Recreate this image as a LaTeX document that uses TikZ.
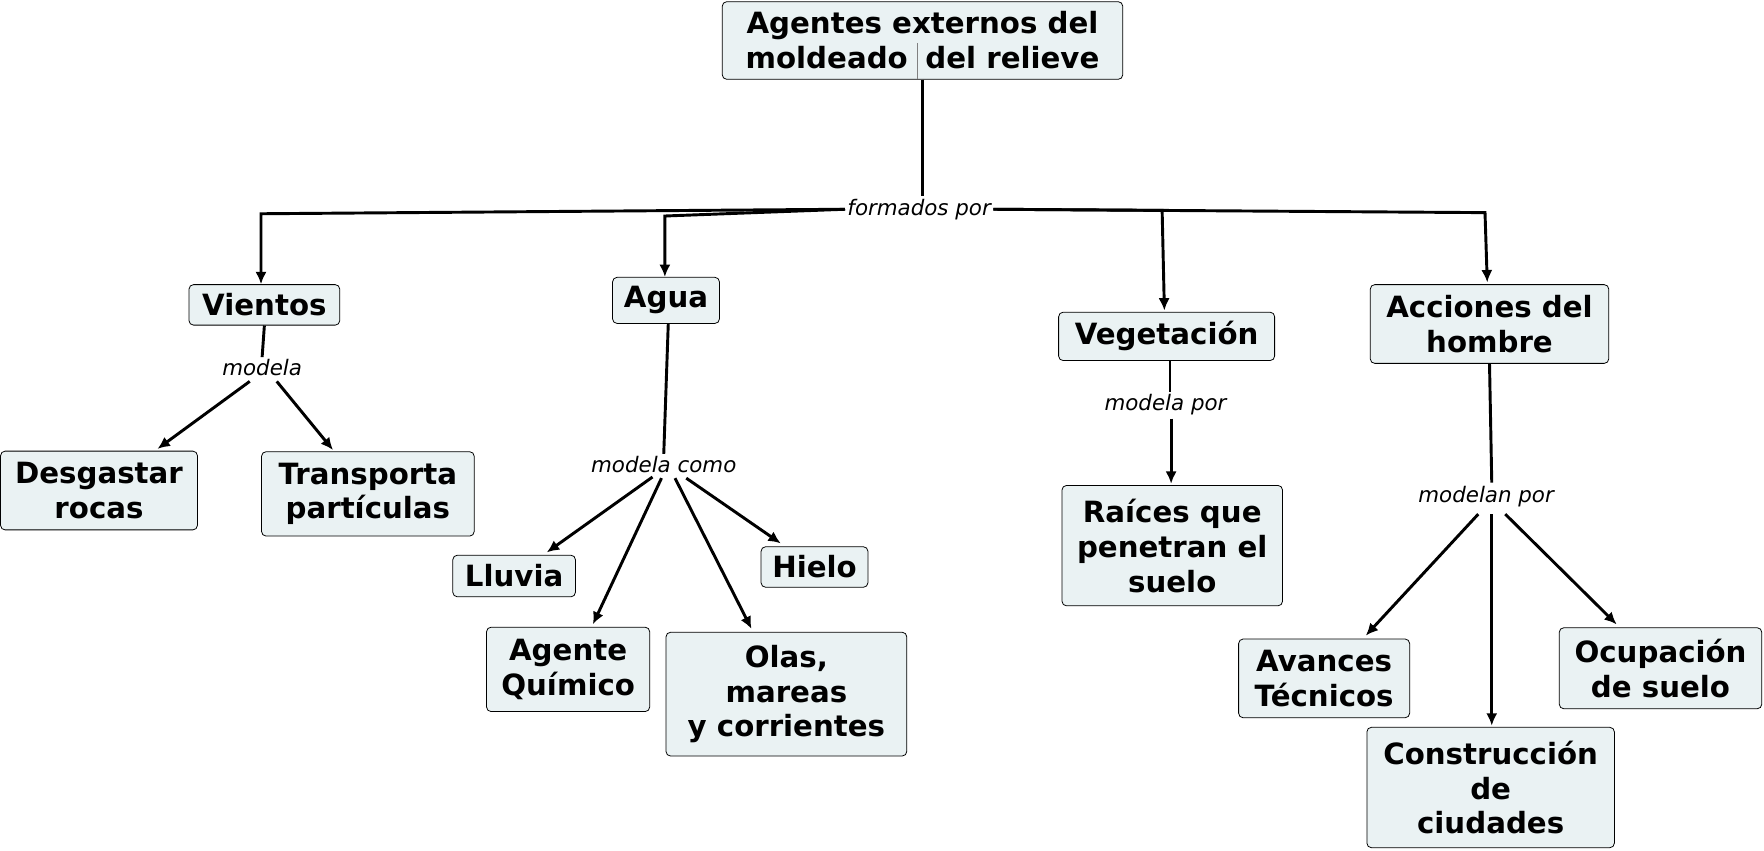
\documentclass[tikz,border=0pt]{standalone}
\usepackage{fontspec}
\setmainfont{DejaVu Sans}
\usetikzlibrary{arrows.meta}
\definecolor{boxfill}{HTML}{EAF2F3}
\begin{document}
\begin{tikzpicture}[x=1pt,y=-1pt,
  box/.style={draw=black,line width=0.7pt,fill=boxfill,rounded corners=4pt,align=center,font=\fontsize{26}{31}\selectfont\bfseries,inner sep=4pt},
  lbl/.style={font=\fontsize{19}{22}\selectfont\itshape,fill=white,inner sep=2pt},
  ln/.style={line width=2.6pt},
  arr/.style={line width=2.6pt,-{Latex[length=11pt,width=10pt]}}]
\useasboundingbox (0,0) rectangle (1568,756);
\node[box,minimum width=356,minimum height=69] (top) at (820,36) {Agentes externos del\\moldeado\hspace{0.6em}del relieve};
\draw[gray,line width=0.6pt] (815,38) -- (815,70);
\node[lbl] (fp) at (817,186) {formados por};
\node[box,minimum width=134,minimum height=36] (vi) at (235,271) {Vientos};
\node[box,minimum width=95,minimum height=41] (ag) at (592,267) {Agua};
\node[box,minimum width=192,minimum height=43] (ve) at (1037,299) {Vegetación};
\node[box,minimum width=212,minimum height=70] (ah) at (1324,288) {Acciones del\\hombre};
\node[lbl] (m1) at (233,327) {modela};
\node[box,minimum width=175,minimum height=70] (de) at (88,436) {Desgastar\\rocas};
\node[box,minimum width=189,minimum height=75] (tr) at (327,439) {Transporta\\partículas};
\node[lbl] (m2) at (590,413) {modela como};
\node[box,minimum width=109,minimum height=37] (ll) at (457,512) {Lluvia};
\node[box,minimum width=95,minimum height=36] (hi) at (724,504) {Hielo};
\node[box,minimum width=145,minimum height=75] (aq) at (505,595) {Agente\\Químico};
\node[box,minimum width=214,minimum height=110] (ol) at (699,617) {Olas,\\mareas\\ y corrientes};
\node[lbl] (m3) at (1036,360) {modela por};
\node[box,minimum width=196,minimum height=107] (ra) at (1042,485) {Raíces que\\penetran el\\suelo};
\node[lbl] (m4) at (1321,441) {modelan por};
\node[box,minimum width=152,minimum height=70] (av) at (1177,603) {Avances\\Técnicos};
\node[box,minimum width=180,minimum height=72] (oc) at (1476,594) {Ocupación\\de suelo};
\node[box,minimum width=220,minimum height=107] (co) at (1325,700) {Construcción\\de\\ciudades};
% top
\draw[ln] (top.south) -- (fp.north-|top.south);
\draw[arr] (fp.west) -- (232,190) -- (vi.north-|232,0);
\draw[arr] (fp.west) -- (591,192) -- (ag.north-|591,0);
\draw[arr] (fp.east) -- (1033,187) -- (1035,276);
\draw[arr] (fp.east) -- (1320,189) -- (1322,251);
% vientos
\draw[ln] (vi.south) -- (m1.north);
\draw[arr] (222,339) -- (140,399);
\draw[arr] (246,339) -- (296,400);
% agua
\draw[ln] (594,288) -- (m2.north);
\draw[arr] (580,424) -- (486,491);
\draw[arr] (588,425) -- (527,555);
\draw[arr] (600,425) -- (668,559);
\draw[arr] (610,425) -- (694,483);
% vegetacion
\draw[ln] (1040,321) -- (m3.north-|1040,0);
\draw[arr] (1041,372) -- (1041,430);
% acciones
\draw[ln] (ah.south) -- (1326,429);
\draw[arr] (1314,457) -- (1214,565);
\draw[arr] (1326,457) -- (1326,645);
\draw[arr] (1338,457) -- (1437,555);
\end{tikzpicture}
\end{document}
